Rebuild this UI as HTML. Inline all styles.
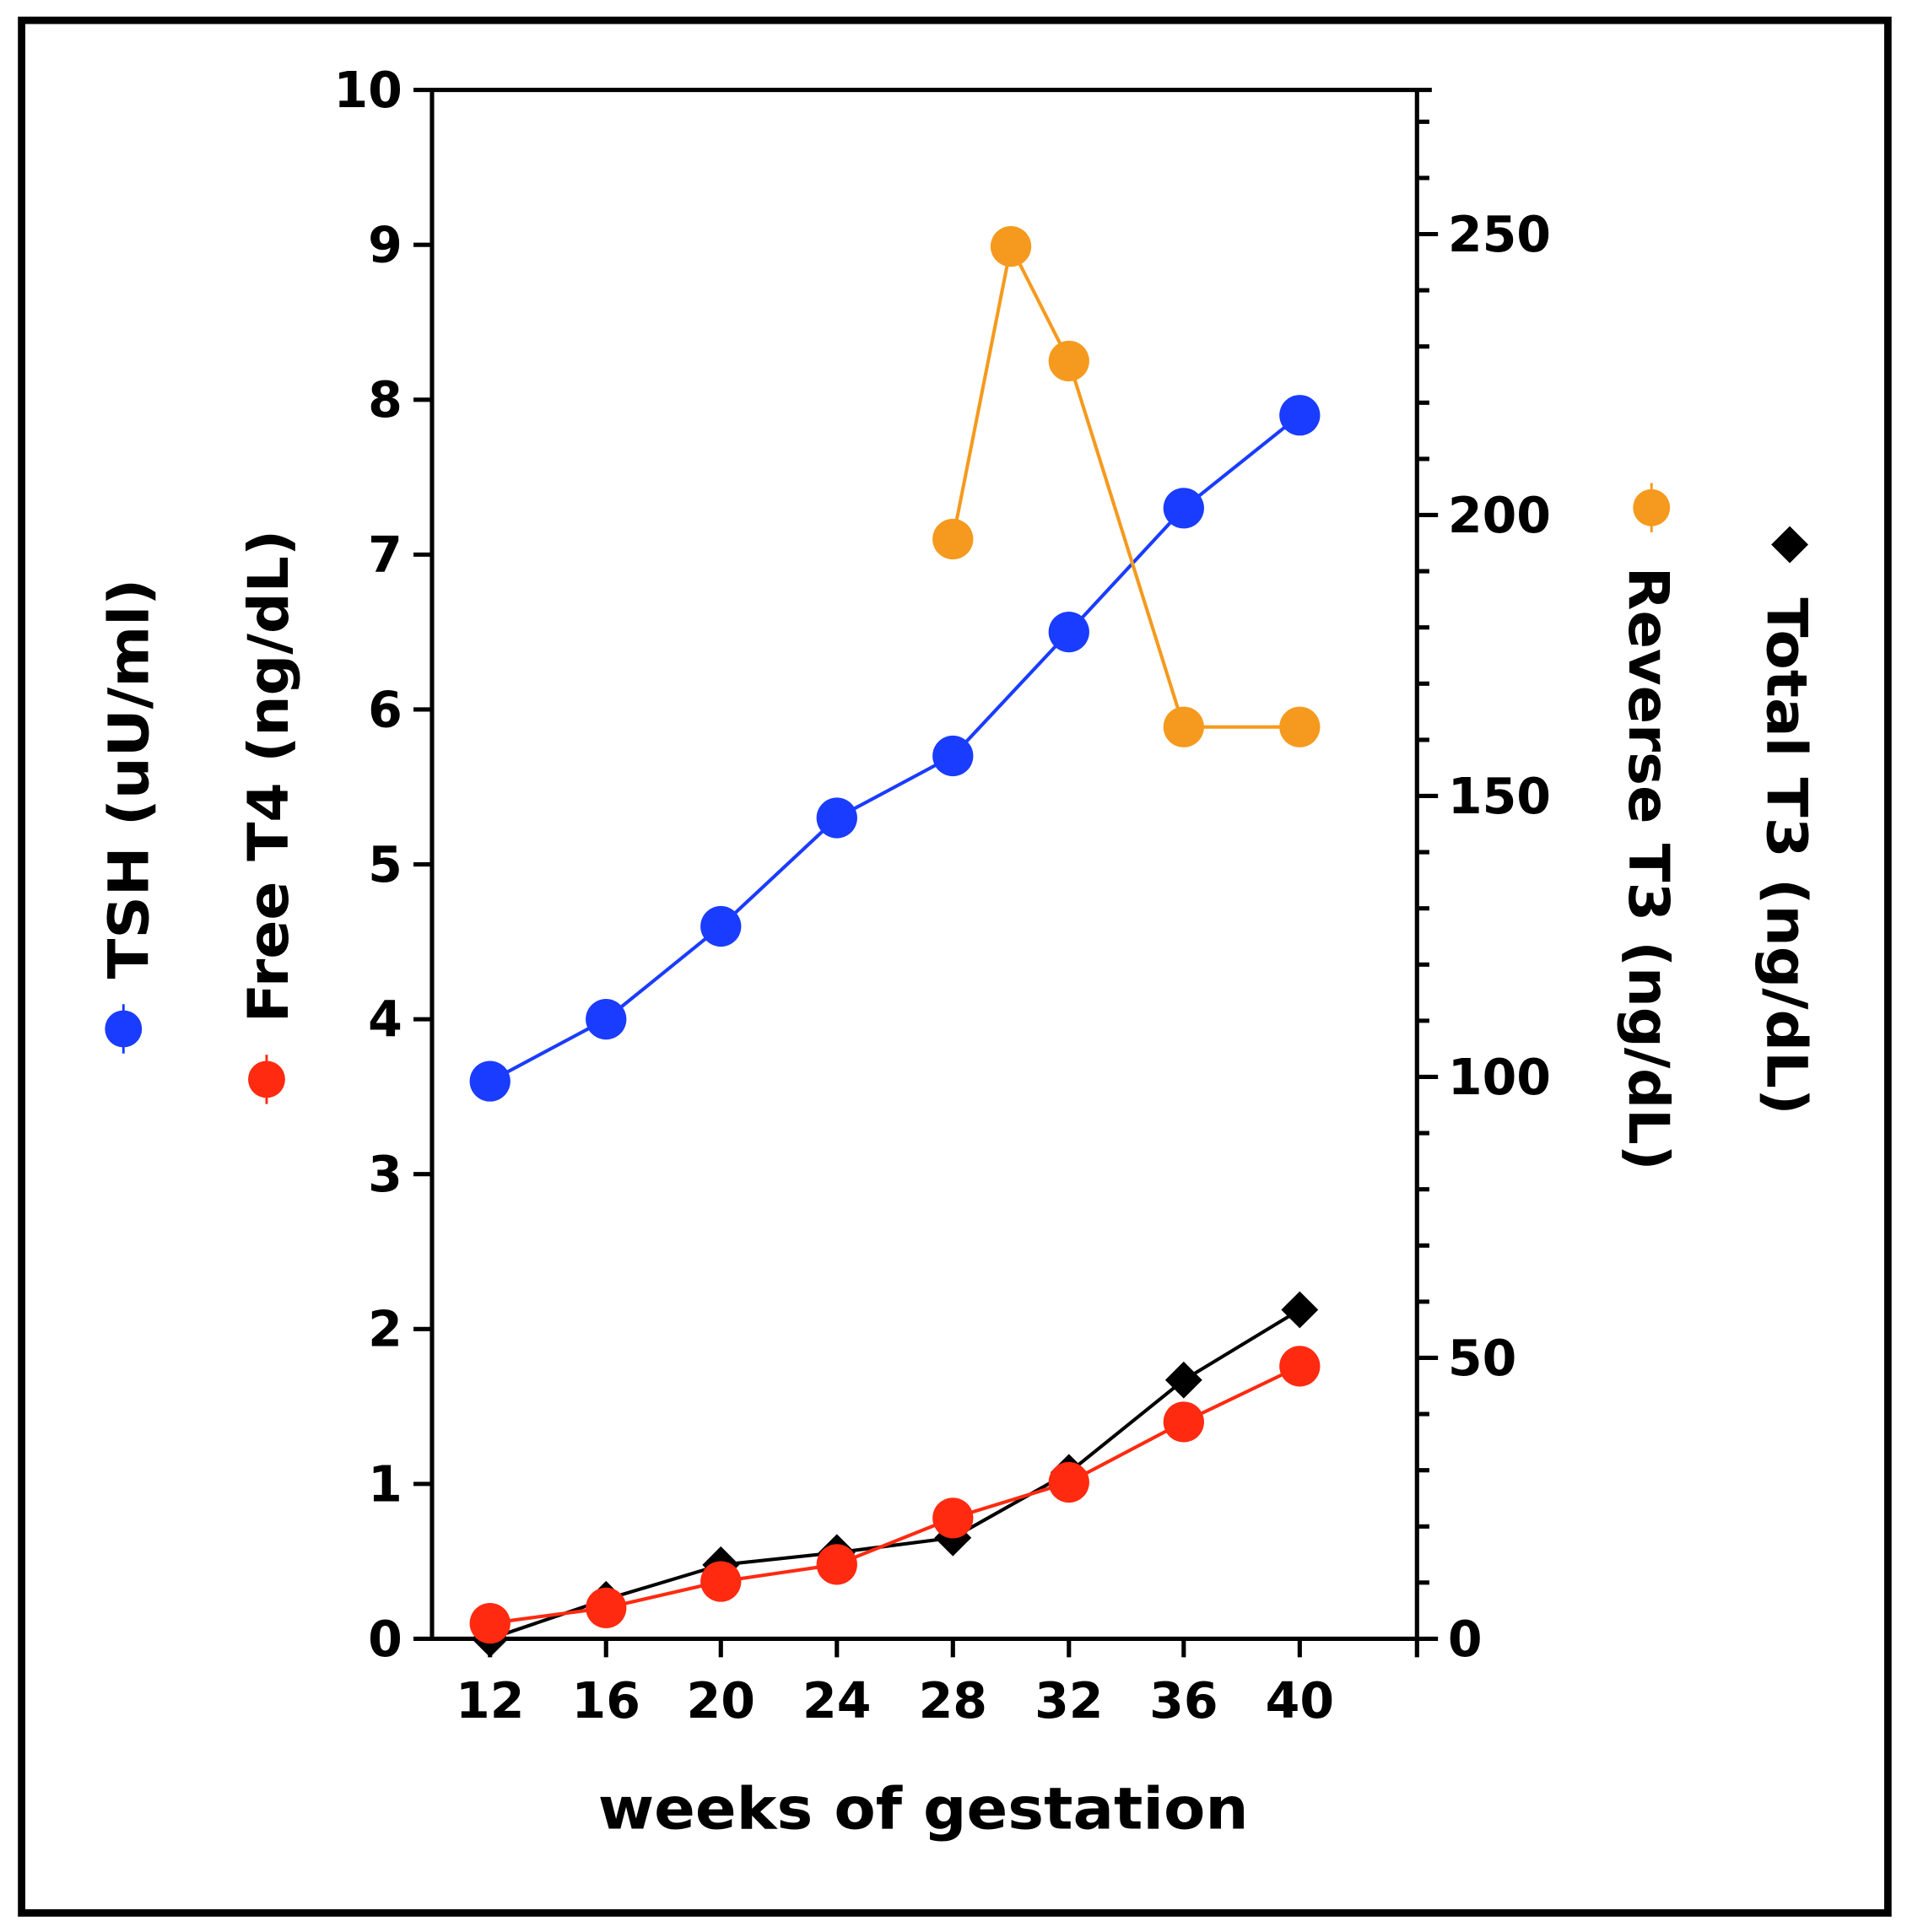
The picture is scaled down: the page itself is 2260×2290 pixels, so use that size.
<!DOCTYPE html>
<html><head><meta charset="utf-8"><style>html,body{margin:0;padding:0;background:#fff}svg{display:block}</style></head>
<body>
<svg width="2260" height="2290" viewBox="0 0 2260 2290" xmlns="http://www.w3.org/2000/svg">
<rect width="2260" height="2290" fill="#fff"/>
<g transform="scale(1.4628 1.4605)" font-family="'DejaVu Sans','Liberation Sans',sans-serif" font-weight="bold">
<rect x="17.5" y="16.5" width="1512" height="1536" fill="none" stroke="#000" stroke-width="6"/>
<g stroke="#000" stroke-width="3.5" fill="none">
<path d="M350,73 V1330 H1148 M350,73 H1160 M1148,73 V1345"/>
<path d="M335,73H350M335,198.7H350M335,324.4H350M335,450.1H350M335,575.8H350M335,701.5H350M335,827.2H350M335,952.9H350M335,1078.6H350M335,1204.3H350M335,1330H350"/>
<path d="M397,1330V1345M491,1330V1345M584,1330V1345M678,1330V1345M772,1330V1345M866,1330V1345M959,1330V1345M1053,1330V1345"/>
<path d="M1148,1330H1165M1148,1102H1165M1148,874H1165M1148,646H1165M1148,418H1165M1148,190H1165"/>
<path d="M1148,1284.4H1158M1148,1238.8H1158M1148,1193.2H1158M1148,1147.6H1158M1148,1056.4H1158M1148,1010.8H1158M1148,965.2H1158M1148,919.6H1158M1148,828.4H1158M1148,782.8H1158M1148,737.2H1158M1148,691.6H1158M1148,600.4H1158M1148,554.8H1158M1148,509.2H1158M1148,463.6H1158M1148,372.4H1158M1148,326.8H1158M1148,281.2H1158M1148,235.6H1158M1148,144.4H1158M1148,98.8H1158"/>
</g>
<g font-size="40" text-anchor="end">
<text x="326" y="87">10</text><text x="326" y="212.7">9</text><text x="326" y="338.4">8</text><text x="326" y="464.1">7</text><text x="326" y="589.8">6</text><text x="326" y="715.5">5</text><text x="326" y="841.2">4</text><text x="326" y="966.9">3</text><text x="326" y="1092.6">2</text><text x="326" y="1218.3">1</text><text x="326" y="1344">0</text>
</g>
<g font-size="40" text-anchor="start">
<text x="1173" y="1344">0</text><text x="1173" y="1116">50</text><text x="1173" y="888">100</text><text x="1173" y="660">150</text><text x="1173" y="432">200</text><text x="1173" y="204">250</text>
</g>
<g font-size="40" text-anchor="middle">
<text x="397" y="1394">12</text><text x="491" y="1394">16</text><text x="584" y="1394">20</text><text x="678" y="1394">24</text><text x="772" y="1394">28</text><text x="866" y="1394">32</text><text x="959" y="1394">36</text><text x="1053" y="1394">40</text>
</g>
<text x="748" y="1484" font-size="47" text-anchor="middle" textLength="527" lengthAdjust="spacingAndGlyphs">weeks of gestation</text>
<text transform="translate(120,632) rotate(-90)" font-size="45" text-anchor="middle" textLength="325" lengthAdjust="spacingAndGlyphs">TSH (uU/ml)</text>
<text transform="translate(233,630) rotate(-90)" font-size="45" text-anchor="middle" textLength="400" lengthAdjust="spacingAndGlyphs">Free T4 (ng/dL)</text>
<text transform="translate(1320,705) rotate(90)" font-size="45" text-anchor="middle" textLength="490" lengthAdjust="spacingAndGlyphs">Reverse T3 (ng/dL)</text>
<text transform="translate(1432,695) rotate(90)" font-size="45" text-anchor="middle" textLength="420" lengthAdjust="spacingAndGlyphs">Total T3 (ng/dL)</text>
<g stroke-width="2">
<line x1="100" y1="815" x2="100" y2="855" stroke="#1a3cff"/><circle cx="100" cy="835" r="15" fill="#1a3cff"/>
<line x1="216" y1="856" x2="216" y2="896" stroke="#ff2a10"/><circle cx="216" cy="876" r="15" fill="#ff2a10"/>
<line x1="1338" y1="392" x2="1338" y2="432" stroke="#f59a1e"/><circle cx="1338" cy="412" r="15" fill="#f59a1e"/>
<path d="M1450,427 L1465,442 L1450,457 L1435,442Z" fill="#000"/>
</g>
<polyline fill="none" stroke="#1a3cff" stroke-width="2.8" points="397,877.5 491,827.2 584,751.8 678,663.8 772,613.5 866,512.9 959,412.4 1053,337"/>
<g fill="#1a3cff"><circle cx="397" cy="877.5" r="16.5"/><circle cx="491" cy="827.2" r="16.5"/><circle cx="584" cy="751.8" r="16.5"/><circle cx="678" cy="663.8" r="16.5"/><circle cx="772" cy="613.5" r="16.5"/><circle cx="866" cy="512.9" r="16.5"/><circle cx="959" cy="412.4" r="16.5"/><circle cx="1053" cy="337" r="16.5"/></g>
<polyline fill="none" stroke="#f59a1e" stroke-width="2.8" points="772,437.5 819,200 866,293 959,590 1053,590"/>
<g fill="#f59a1e"><circle cx="772" cy="437.5" r="16.5"/><circle cx="819" cy="200" r="16.5"/><circle cx="866" cy="293" r="16.5"/><circle cx="959" cy="590" r="16.5"/><circle cx="1053" cy="590" r="16.5"/></g>
<polyline fill="none" stroke="#000" stroke-width="2.8" points="397,1330 491,1298 584,1270 678,1260 772,1248 866,1195 959,1120 1053,1063"/>
<g fill="#000">
<path d="M397,1315l15,15l-15,15l-15,-15z"/><path d="M491,1283l15,15l-15,15l-15,-15z"/><path d="M584,1255l15,15l-15,15l-15,-15z"/><path d="M678,1245l15,15l-15,15l-15,-15z"/><path d="M772,1233l15,15l-15,15l-15,-15z"/><path d="M866,1180l15,15l-15,15l-15,-15z"/><path d="M959,1105l15,15l-15,15l-15,-15z"/><path d="M1053,1048l15,15l-15,15l-15,-15z"/>
</g>
<polyline fill="none" stroke="#ff2a10" stroke-width="2.8" points="397,1317.4 491,1304.9 584,1283.5 678,1269.7 772,1232 866,1203 959,1154 1053,1108.8"/>
<g fill="#ff2a10"><circle cx="397" cy="1317.4" r="16.5"/><circle cx="491" cy="1304.9" r="16.5"/><circle cx="584" cy="1283.5" r="16.5"/><circle cx="678" cy="1269.7" r="16.5"/><circle cx="772" cy="1232" r="16.5"/><circle cx="866" cy="1203" r="16.5"/><circle cx="959" cy="1154" r="16.5"/><circle cx="1053" cy="1108.8" r="16.5"/></g>
</g>
</svg>
</body></html>
